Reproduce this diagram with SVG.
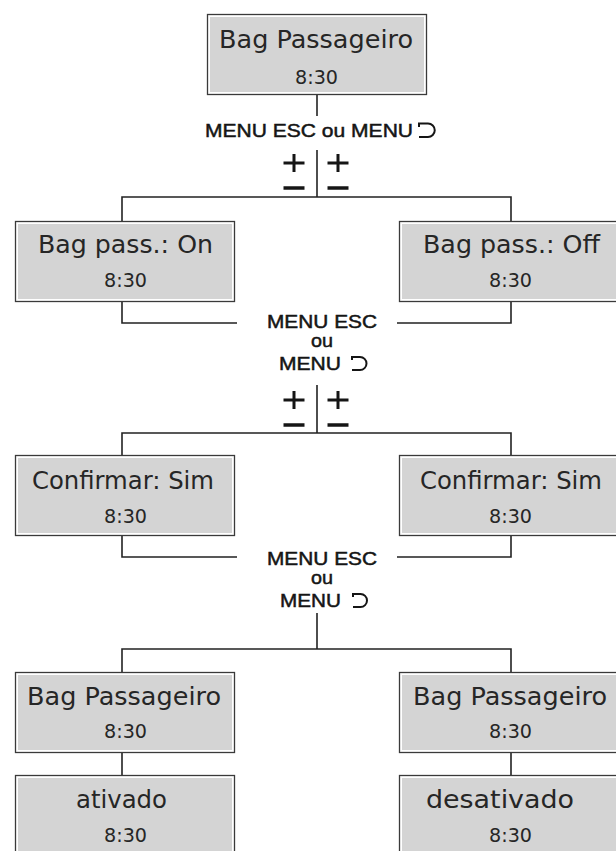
<svg xmlns="http://www.w3.org/2000/svg" width="616" height="851" viewBox="0 0 616 851">
<style>
.frame{fill:#ffffff;stroke:#3a3a3a;stroke-width:1.3}
.fill{fill:#d4d4d4}
.t1{font-family:"DejaVu Sans","Liberation Sans",sans-serif;font-size:24px;fill:#262626;text-anchor:start}
.t2{font-family:"DejaVu Sans","Liberation Sans",sans-serif;font-size:19px;fill:#262626}
.lbl{font-family:"Liberation Sans",Arial,sans-serif;font-size:19px;fill:#151515;stroke:#151515;stroke-width:0.5}
.con{fill:none;stroke:#222;stroke-width:1.6}
.sym{fill:none;stroke:#151515;stroke-width:2}
.pm{stroke:#151515;stroke-width:3;fill:none}
</style>
<defs>
<g id="boxshape">
<rect class="frame" x="0.5" y="0.5" width="219" height="80"/>
<rect class="fill" x="3" y="3" width="214" height="75"/>
</g>
<g id="plusminus">
<path class="pm" d="M-10.5,0 H10.5 M0,-9 V9"/>
<path d="M-10.5,25 H10.5" stroke="#151515" stroke-width="3.5"/>
</g>
</defs>

<g id="connectors">
<path class="con" d="M317,95 V116"/>
<path class="con" d="M317,150 V197 M122,221 V197 H511 V221"/>
<path class="con" d="M122,299 V323 H237 M511,299 V323 H397"/>
<path class="con" d="M317,385 V433 M122,455 V433 H511 V455"/>
<path class="con" d="M122,535 V557 H237 M511,535 V557 H397"/>
<path class="con" d="M317,613 V649 M122,672 V649 H511 V672"/>
<path class="con" d="M122,751 V775 M511,751 V775"/>
</g>

<g id="node-top">
<use href="#boxshape" x="207" y="14"/>
<text class="t1" x="219" y="48" textLength="194" lengthAdjust="spacingAndGlyphs">Bag Passageiro</text>
<text class="t2" x="295" y="84" textLength="43" lengthAdjust="spacingAndGlyphs">8:30</text>
</g>

<g id="label-1">
<text class="lbl" x="205" y="137" font-size="20" textLength="208" lengthAdjust="spacingAndGlyphs">MENU ESC ou MENU</text>
<path class="sym" d="M419,127 V123.5 H428 A6.75,6.75 0 0 1 428,137 H419"/>
<use href="#plusminus" x="294" y="163"/>
<use href="#plusminus" x="338" y="163"/>
</g>

<g id="node-on">
<use href="#boxshape" x="15" y="221"/>
<text class="t1" x="38" y="253" textLength="175" lengthAdjust="spacingAndGlyphs">Bag pass.: On</text>
<text class="t2" x="104" y="287" textLength="43" lengthAdjust="spacingAndGlyphs">8:30</text>
</g>

<g id="node-off">
<use href="#boxshape" x="399" y="221"/>
<text class="t1" x="423" y="253" textLength="177" lengthAdjust="spacingAndGlyphs">Bag pass.: Off</text>
<text class="t2" x="489" y="287" textLength="43" lengthAdjust="spacingAndGlyphs">8:30</text>
</g>

<g id="label-2">
<text class="lbl" x="267" y="328" textLength="110" lengthAdjust="spacingAndGlyphs">MENU ESC</text>
<text class="lbl" x="311" y="347" textLength="22" lengthAdjust="spacingAndGlyphs">ou</text>
<text class="lbl" x="279" y="370" textLength="62" lengthAdjust="spacingAndGlyphs">MENU</text>
<path class="sym" d="M352,360 V357 H360 A6.5,6.5 0 0 1 360,370 H352"/>
<use href="#plusminus" x="294" y="400"/>
<use href="#plusminus" x="338" y="400"/>
</g>

<g id="node-confirm-left">
<use href="#boxshape" x="15" y="455"/>
<text class="t1" x="32" y="489" textLength="182" lengthAdjust="spacingAndGlyphs">Confirmar: Sim</text>
<text class="t2" x="104" y="523" textLength="43" lengthAdjust="spacingAndGlyphs">8:30</text>
</g>

<g id="node-confirm-right">
<use href="#boxshape" x="399" y="455"/>
<text class="t1" x="420" y="489" textLength="182" lengthAdjust="spacingAndGlyphs">Confirmar: Sim</text>
<text class="t2" x="489" y="523" textLength="43" lengthAdjust="spacingAndGlyphs">8:30</text>
</g>

<g id="label-3">
<text class="lbl" x="267" y="565" textLength="110" lengthAdjust="spacingAndGlyphs">MENU ESC</text>
<text class="lbl" x="311" y="584" textLength="22" lengthAdjust="spacingAndGlyphs">ou</text>
<text class="lbl" x="280" y="607" textLength="61" lengthAdjust="spacingAndGlyphs">MENU</text>
<path class="sym" d="M353,597 V594 H360.5 A6.5,6.5 0 0 1 360.5,607 H353"/>
</g>

<g id="node-bag-left">
<use href="#boxshape" x="15" y="672"/>
<text class="t1" x="27" y="705" textLength="194" lengthAdjust="spacingAndGlyphs">Bag Passageiro</text>
<text class="t2" x="104" y="738" textLength="43" lengthAdjust="spacingAndGlyphs">8:30</text>
</g>

<g id="node-bag-right">
<use href="#boxshape" x="399" y="672"/>
<text class="t1" x="413" y="705" textLength="194" lengthAdjust="spacingAndGlyphs">Bag Passageiro</text>
<text class="t2" x="489" y="738" textLength="43" lengthAdjust="spacingAndGlyphs">8:30</text>
</g>

<g id="node-ativado">
<use href="#boxshape" x="15" y="775"/>
<text class="t1" x="76" y="808" textLength="91" lengthAdjust="spacingAndGlyphs">ativado</text>
<text class="t2" x="104" y="842" textLength="43" lengthAdjust="spacingAndGlyphs">8:30</text>
</g>

<g id="node-desativado">
<use href="#boxshape" x="399" y="775"/>
<text class="t1" x="426" y="808" textLength="148" lengthAdjust="spacingAndGlyphs">desativado</text>
<text class="t2" x="489" y="842" textLength="43" lengthAdjust="spacingAndGlyphs">8:30</text>
</g>
</svg>
